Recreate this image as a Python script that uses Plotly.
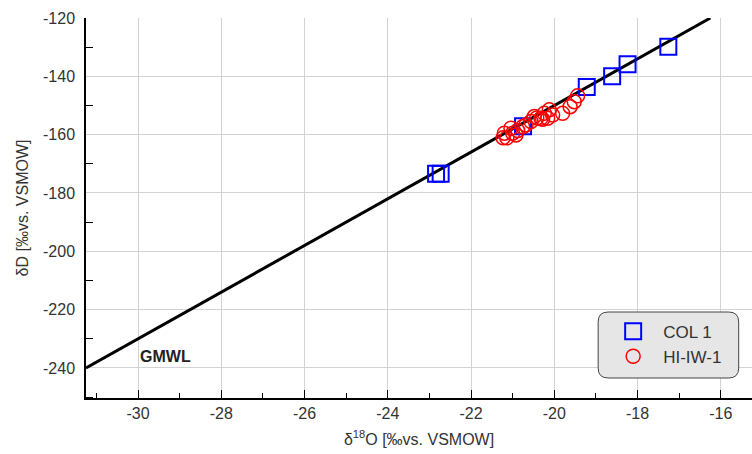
import plotly.graph_objects as go

# COL 1 samples (squares)
col1_d18o = [-17.26, -18.24, -18.61, -19.22, -20.75, -22.84, -22.73]
col1_dd = [-129.9, -135.9, -140.0, -143.7, -157.1, -173.4, -173.4]

# HI-IW-1 samples (circles)
hi_d18o = [-21.23, -21.20, -21.14, -21.00, -20.92, -21.04, -20.88, -20.76, -20.68, -20.56,
           -20.48, -20.42, -20.32, -20.28, -20.24, -20.12, -20.16, -20.04, -19.80, -19.62,
           -19.52, -19.44]
hi_dd = [-161.1, -159.5, -161.1, -159.5, -160.1, -157.8, -158.6, -157.3, -156.7, -155.5,
         -153.8, -154.3, -154.4, -154.7, -152.7, -151.5, -154.4, -153.3, -152.7, -150.4,
         -148.7, -146.7]

# Global Meteoric Water Line: dD = 8 * d18O + 10
gmwl_x = [-31.25, -16.25]
gmwl_y = [8 * v + 10 for v in gmwl_x]

# axis ticks (ASCII hyphen labels)
x_ticks = [-30, -28, -26, -24, -22, -20, -18, -16]
x_labels = ["-30", "-28", "-26", "-24", "-22", "-20", "-18", "-16"]
y_ticks = [-240, -220, -200, -180, -160, -140, -120]
y_labels = ["-240", "-220", "-200", "-180", "-160", "-140", "-120"]
top_minor_ticks = [-31, -29, -27, -25, -23, -21, -19, -17, -15]

x_range = [-31.25, -15.25]
y_range = [-250.3, -120]

FONT = "Liberation Sans, Arial, sans-serif"

fig = go.Figure()
fig.add_trace(go.Scatter(x=gmwl_x, y=gmwl_y, mode="lines",
                         line=dict(color="black", width=3), showlegend=False,
                         hoverinfo="skip"))
fig.add_trace(go.Scatter(x=col1_d18o, y=col1_dd, mode="markers", name="COL 1",
                         marker=dict(symbol="square-open", size=16, color="#0000ff",
                                     line=dict(width=2, color="#0000ff"))))
fig.add_trace(go.Scatter(x=hi_d18o, y=hi_dd, mode="markers", name="HI-IW-1",
                         marker=dict(symbol="circle-open", size=14, color="#ff0000",
                                     line=dict(width=1.5, color="#ff0000"))))

# rounded legend box in paper coordinates
bx0, bx1, by0, by1 = 0.769, 0.980, 0.0526, 0.2263
rx, ry = 0.015, 0.0263
path = (f"M {bx0+rx},{by0} L {bx1-rx},{by0} Q {bx1},{by0} {bx1},{by0+ry} "
        f"L {bx1},{by1-ry} Q {bx1},{by1} {bx1-rx},{by1} "
        f"L {bx0+rx},{by1} Q {bx0},{by1} {bx0},{by1-ry} "
        f"L {bx0},{by0+ry} Q {bx0},{by0} {bx0+rx},{by0} Z")
fig.add_shape(type="path", path=path, xref="paper", yref="paper",
              fillcolor="#e6e6e6", line=dict(color="#444", width=1), layer="above")

fig.add_annotation(x=-29.35, y=-236.2, text="<b>GMWL</b>", showarrow=False,
                   font=dict(family=FONT, size=16, color="#222"))

fig.update_layout(
    width=752, height=454,
    margin=dict(l=86, r=0, t=18, b=56),
    plot_bgcolor="white", paper_bgcolor="white",
    font=dict(family=FONT, size=16, color="#333"),
    showlegend=True,
    legend=dict(x=0.7765, y=0.222, xanchor="left", yanchor="top",
                bgcolor="rgba(0,0,0,0)", borderwidth=0, itemwidth=50,
                font=dict(family=FONT, size=17, color="#333")),
    xaxis=dict(range=x_range, tickvals=x_ticks, ticktext=x_labels,
               showgrid=True, gridcolor="#d3d3d3", gridwidth=1, zeroline=False,
               showline=True, linecolor="black", linewidth=1.5,
               ticks="inside", ticklen=8, tickcolor="black", tickwidth=1,
               minor=dict(ticks="inside", ticklen=5, dtick=1, tickcolor="black", showgrid=False),
               tickfont=dict(size=16, color="#333"),
               title=dict(text="δ<sup>18</sup>O [‰vs. VSMOW]", font=dict(size=16, color="#333"),
                          standoff=13)),
    xaxis2=dict(range=x_range, overlaying="x", side="top", anchor="y",
                tickvals=top_minor_ticks,
                ticks="inside", ticklen=7, tickcolor="#555", showticklabels=False,
                showgrid=False, zeroline=False,
                showline=True, linecolor="#666", linewidth=1.5),
    yaxis=dict(range=y_range, tickvals=y_ticks, ticktext=y_labels,
               showgrid=True, gridcolor="#d3d3d3", gridwidth=1, zeroline=False,
               showline=True, linecolor="black", linewidth=1.5,
               ticks="", ticklabelstandoff=6,
               tickfont=dict(size=16, color="#333"),
               minor=dict(ticks="inside", ticklen=7, dtick=20, tick0=-250,
                          tickcolor="black", showgrid=False),
               title=dict(text="δD [‰vs. VSMOW]", font=dict(size=16, color="#333"),
                          standoff=10)),
)

fig.write_html("out.html")
